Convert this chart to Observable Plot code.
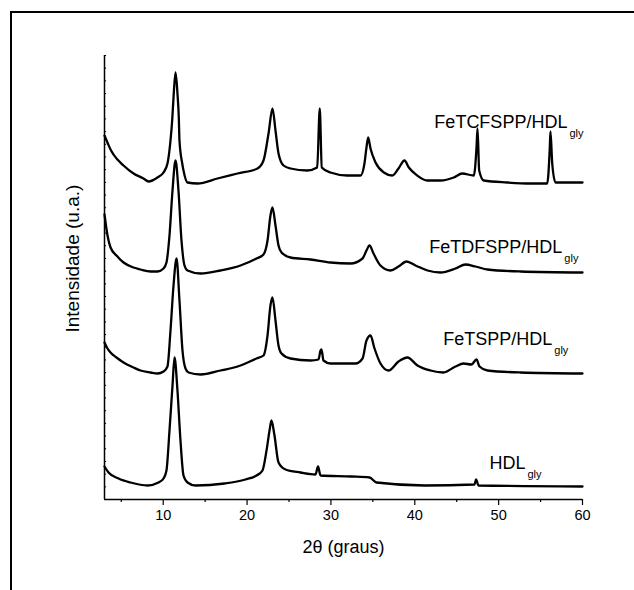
<!DOCTYPE html>
<html>
<head>
<meta charset="utf-8">
<script src="https://cdn.jsdelivr.net/npm/d3@7"></script>
<script src="https://cdn.jsdelivr.net/npm/@observablehq/plot@0.6"></script>
<style>
  html, body { margin: 0; padding: 0; background: #fff; }
  body { width: 634px; height: 590px; overflow: hidden; position: relative; font-family: "Liberation Sans", Arial, sans-serif; }
  #frame { position: absolute; left: 10px; top: 11px; width: 700px; height: 700px; border-top: 2px solid #000; border-left: 2px solid #000; }
  #chart { position: absolute; left: 0; top: 0; }
</style>
</head>
<body>
<div id="frame"></div>
<div id="chart"></div>
<script>
// FeTCFSPP/HDLgly (top trace)
const tcfsppX = [3.00,3.40,3.72,4.07,5.27,6.46,7.65,8.25,9.32,10.04,10.51,10.87,11.07,11.23,11.47,11.70,11.86,11.94,12.27,12.42,12.90,14.09,16.47,18.86,21.24,21.96,22.56,23.03,23.39,23.75,24.35,25.18,27.17,28.36,28.67,28.91,29.95,31.94,33.53,34.00,34.24,34.44,34.72,35.32,36.31,37.31,38.06,38.77,39.29,40.29,41.48,43.07,44.65,45.65,47.04,47.36,47.48,47.68,48.23,51.02,53.80,55.79,56.10,56.18,56.39,56.78,60.00];
const tcfsppY = [364,356,350,345,334,326,321,318,322,327,336,359,379,402,427,406,382,359,336,329,317,316,321,326,331,339,366,391,369,346,334,331,329,332,391,332,327,324,324,336,352,362,351,337,327,324,331,339,332,324,319,319,322,326,324,352,371,329,319,317,316,316,352,368,336,317,317];

// FeTDFSPP/HDLgly
const tdfsppX = [3.00,3.36,3.72,4.43,5.27,6.46,7.29,8.49,9.32,10.04,10.39,10.75,11.11,11.47,11.82,12.18,12.54,12.90,14.45,16.83,19.22,21.13,21.96,22.44,22.79,23.03,23.39,23.75,24.11,25.18,27.56,29.95,32.33,33.77,34.24,34.60,35.08,35.91,37.10,38.06,39.01,40.09,41.52,43.07,44.85,46.05,47.24,48.67,52.61,60.00];
const tdfsppY = [285,264,252,244,237,232,230,228,228,231,237,264,309,339,309,259,234,229,226,229,234,241,245,259,284,292,274,254,247,242,240,237,236,241,249,254,246,234,229,233,238,234,229,227,231,235,233,230,228,227];

// FeTSPP/HDLgly
const tsppX = [3.00,3.36,3.72,4.43,5.27,6.46,7.29,8.49,9.32,10.04,10.51,10.87,11.23,11.59,11.94,12.30,12.66,13.02,14.45,16.83,19.22,21.13,21.96,22.44,22.79,23.03,23.39,23.75,24.11,25.18,27.56,28.52,28.76,28.88,29.11,29.95,32.93,33.77,34.24,34.72,35.20,35.91,36.87,38.06,39.13,40.32,41.87,43.42,44.85,45.81,46.76,47.36,47.72,48.67,52.61,60.00];
const tsppY = [157,151,147,142,137,132,129,127,126,128,133,169,214,241,199,149,131,127,125,129,134,141,144,164,194,202,179,154,146,141,139,140,149,150,139,136,136,141,159,164,151,136,129,138,142,134,129,127,133,136,135,140,133,129,127,126];

// HDLgly (bottom trace)
const hdlX = [3.00,3.48,4.67,6.10,8.13,9.44,10.04,10.39,10.75,11.11,11.35,11.70,12.06,12.42,12.90,13.85,17.31,19.81,21.13,21.84,22.32,22.68,22.91,23.27,23.75,24.58,26.37,28.16,28.46,28.76,32.45,34.60,35.44,41.16,47.12,47.31,47.60,60.00];
const hdlY = [33,27,21,17,14,17,21,29,69,114,142,109,59,24,17,14,16,20,24,29,49,69,79,64,37,30,27,25,33,24,23,22,17,14,15,20,14,13];

const seriesNames = ["FeTCFSPP/HDL", "FeTDFSPP/HDL", "FeTSPP/HDL", "HDL"];
const labelX = [58.2, 57.6, 56.4, 53.2];
const labelY = [372, 247, 155, 31];
const subscript = "gly";

const xMajorTicks = [10, 20, 30, 40, 50, 60];
const xMinorTicks = [5, 15, 25, 35, 45, 55];
const xTitle = "2θ (graus)";
const yTitle = "Intensidade (u.a.)";

const yMax = 444;
const yTicks = d3.range(0, 36).map(i => i * yMax / 35);

const pairs = [[tcfsppX, tcfsppY], [tdfsppX, tdfsppY], [tsppX, tsppY], [hdlX, hdlY]];
const data = pairs.flatMap(([xs, ys], k) => xs.map((x, i) => ({series: seriesNames[k], x, y: ys[i]})));
const labels = seriesNames.map((name, k) => ({name, x: labelX[k], y: labelY[k]}));

const chart = Plot.plot({
  width: 634,
  height: 590,
  marginLeft: 104,
  marginRight: 52,
  marginTop: 55,
  marginBottom: 91,
  style: {fontFamily: "'Liberation Sans', Arial, sans-serif", background: "transparent", color: "#000"},
  x: {domain: [3, 60]},
  y: {domain: [0, yMax], axis: null},
  marks: [
    Plot.axisX({ticks: xMinorTicks, tickSize: 3, tickFormat: () => "", label: null, strokeWidth: 1.2}),
    Plot.axisX({ticks: xMajorTicks, tickSize: 6, tickPadding: 4, fontSize: 14.5, label: null, strokeWidth: 1.2}),
    Plot.ruleY(yTicks, {x1: 3, x2: 3.25, stroke: "#000", strokeWidth: 1}),
    Plot.ruleY([0], {x1: 3, x2: 60, stroke: "#000", strokeWidth: 1.5}),
    Plot.ruleX([3], {y1: 0, y2: yMax, stroke: "#000", strokeWidth: 1.5}),
    Plot.line(data, {x: "x", y: "y", z: "series", stroke: "#000", strokeWidth: 2.3, strokeLinejoin: "round", curve: "monotone-x"}),
    Plot.text(labels, {x: "x", y: "y", text: "name", textAnchor: "end", lineAnchor: "bottom", fontSize: 18, fill: "#000"}),
    Plot.text(labels, {x: "x", y: "y", text: () => subscript, textAnchor: "start", lineAnchor: "bottom", dx: 2, dy: 9, fontSize: 11, fill: "#000"}),
    Plot.text([xTitle], {frameAnchor: "bottom", dy: 53, lineAnchor: "bottom", fontSize: 18, fill: "#000"}),
    Plot.text([yTitle], {frameAnchor: "left", dx: -26, dy: 55, rotate: -90, lineAnchor: "bottom", fontSize: 19, fill: "#000"})
  ]
});
document.getElementById("chart").appendChild(chart);
</script>
</body>
</html>
